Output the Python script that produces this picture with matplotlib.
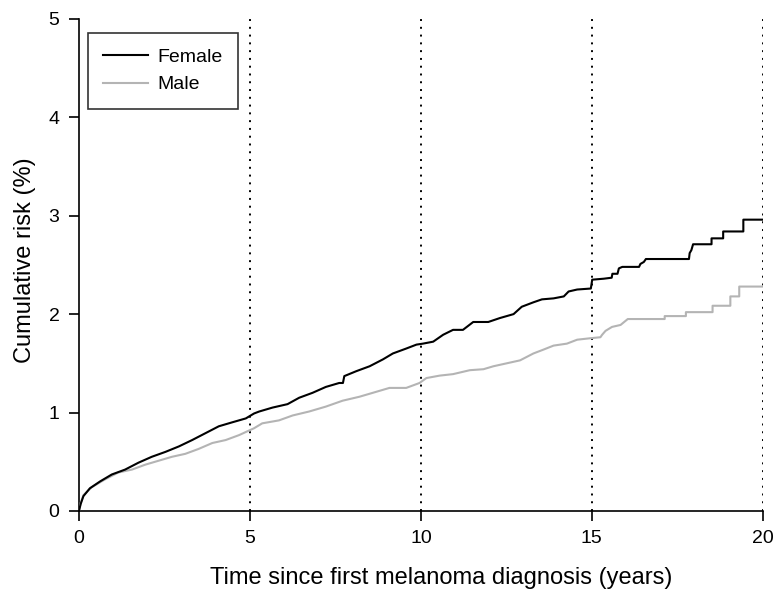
import matplotlib
matplotlib.use("Agg")
import matplotlib.pyplot as plt

# --------------------------------------------------
#  Data (years, cumulative risk %)
#  repeated times = vertical jumps of the step curve
# --------------------------------------------------
female_t = [0, 0.05, 0.13, 0.32, 0.62, 0.96, 1.35, 1.74, 2.13, 2.53, 2.92,
            3.31, 3.70, 4.09, 4.48, 4.88, 5.12, 5.27, 5.66, 6.10, 6.44, 6.83,
            7.22, 7.61, 7.72, 7.76, 8.11, 8.50, 8.89, 9.18, 9.57, 9.87, 10.06,
            10.36, 10.65, 10.94, 11.23, 11.53, 11.97, 12.31, 12.71, 12.95,
            13.29, 13.54, 13.88, 14.18, 14.32, 14.57, 14.97, 15.01, 15.35,
            15.58, 15.60, 15.75, 15.79, 15.89, 16.38, 16.42, 16.52, 16.58,
            17.84, 17.86, 17.91, 17.96, 18.50, 18.50, 18.84, 18.84, 19.43,
            19.43, 20.0]
female_risk = [0, 0.07, 0.15, 0.23, 0.30, 0.37, 0.42, 0.49, 0.55, 0.60, 0.655,
               0.72, 0.79, 0.86, 0.90, 0.94, 0.99, 1.01, 1.05, 1.085, 1.15, 1.20,
               1.26, 1.30, 1.30, 1.37, 1.42, 1.47, 1.54, 1.60, 1.65, 1.69, 1.70,
               1.72, 1.79, 1.84, 1.84, 1.92, 1.92, 1.96, 2.00, 2.075,
               2.12, 2.15, 2.16, 2.18, 2.23, 2.25, 2.26, 2.35, 2.36,
               2.37, 2.41, 2.41, 2.465, 2.48, 2.48, 2.51, 2.53, 2.56,
               2.56, 2.62, 2.65, 2.71, 2.71, 2.77, 2.77, 2.84, 2.84,
               2.96, 2.96]

male_t = [0, 0.05, 0.13, 0.37, 0.76, 1.15, 1.55, 1.94, 2.33, 2.72, 3.11,
          3.50, 3.90, 4.29, 4.68, 5.12, 5.36, 5.85, 6.25, 6.73, 7.22, 7.71,
          8.20, 8.69, 9.08, 9.57, 9.96, 10.16, 10.55, 10.94, 11.43, 11.83,
          12.12, 12.51, 12.90, 13.29, 13.59, 13.88, 14.27, 14.57, 14.96,
          15.25, 15.30, 15.40, 15.59, 15.84, 16.05, 17.13, 17.13, 17.75,
          17.75, 18.53, 18.53, 19.05, 19.05, 19.31, 19.31, 20.0]
male_risk = [0, 0.08, 0.16, 0.24, 0.32, 0.39, 0.42, 0.47, 0.51, 0.55, 0.58,
             0.63, 0.69, 0.72, 0.77, 0.84, 0.89, 0.92, 0.97, 1.01, 1.06, 1.12,
             1.16, 1.21, 1.25, 1.25, 1.30, 1.35, 1.375, 1.39, 1.43, 1.44,
             1.47, 1.50, 1.53, 1.60, 1.64, 1.68, 1.70, 1.74, 1.755,
             1.765, 1.79, 1.83, 1.87, 1.89, 1.95, 1.95, 1.98, 1.98,
             2.02, 2.02, 2.085, 2.085, 2.18, 2.18, 2.28, 2.28]

x_ticks = [0, 5, 10, 15, 20]
y_ticks = [0, 1, 2, 3, 4, 5]
ref_lines = [5, 10, 15, 20]

plt.rcParams["font.family"] = ["Liberation Sans", "DejaVu Sans"]

fig = plt.figure(figsize=(7.78, 5.92), dpi=100)
ax = fig.add_axes([0.1015, 0.137, 0.879, 0.831])

# dotted reference lines
for xv in ref_lines:
    ax.axvline(xv, color="black", linestyle=(0, (1, 3)), linewidth=1.4, zorder=1)

ax.plot(male_t, male_risk, color="#b4b4b4", linewidth=1.5, label="Male", zorder=3)
ax.plot(female_t, female_risk, color="black", linewidth=1.5, label="Female", zorder=4)

ax.set_xlim(0, 20)
ax.set_ylim(0, 5)
ax.set_xticks(x_ticks)
ax.set_yticks(y_ticks)
ax.tick_params(direction="out", length=7, width=1.2, labelsize=14, pad=7)
for s in ["top", "right"]:
    ax.spines[s].set_visible(False)
for s in ["left", "bottom"]:
    ax.spines[s].set_linewidth(1.2)

ax.set_xlabel("Time since first melanoma diagnosis (years)", fontsize=17, labelpad=14)
ax.xaxis.label.set_x(0.53)
ax.set_ylabel("Cumulative risk (%)", fontsize=17, labelpad=9)
ax.yaxis.label.set_y(0.51)

handles, labels = ax.get_legend_handles_labels()
leg = ax.legend(handles[::-1], labels[::-1], loc="upper left",
                bbox_to_anchor=(0.013, 0.9715), borderaxespad=0, fontsize=14,
                frameon=True, fancybox=False, edgecolor="black",
                handlelength=2.3, handletextpad=0.45, borderpad=0.8,
                labelspacing=0.5)
leg.get_frame().set_linewidth(1.2)

fig.savefig("out.png", dpi=100)
